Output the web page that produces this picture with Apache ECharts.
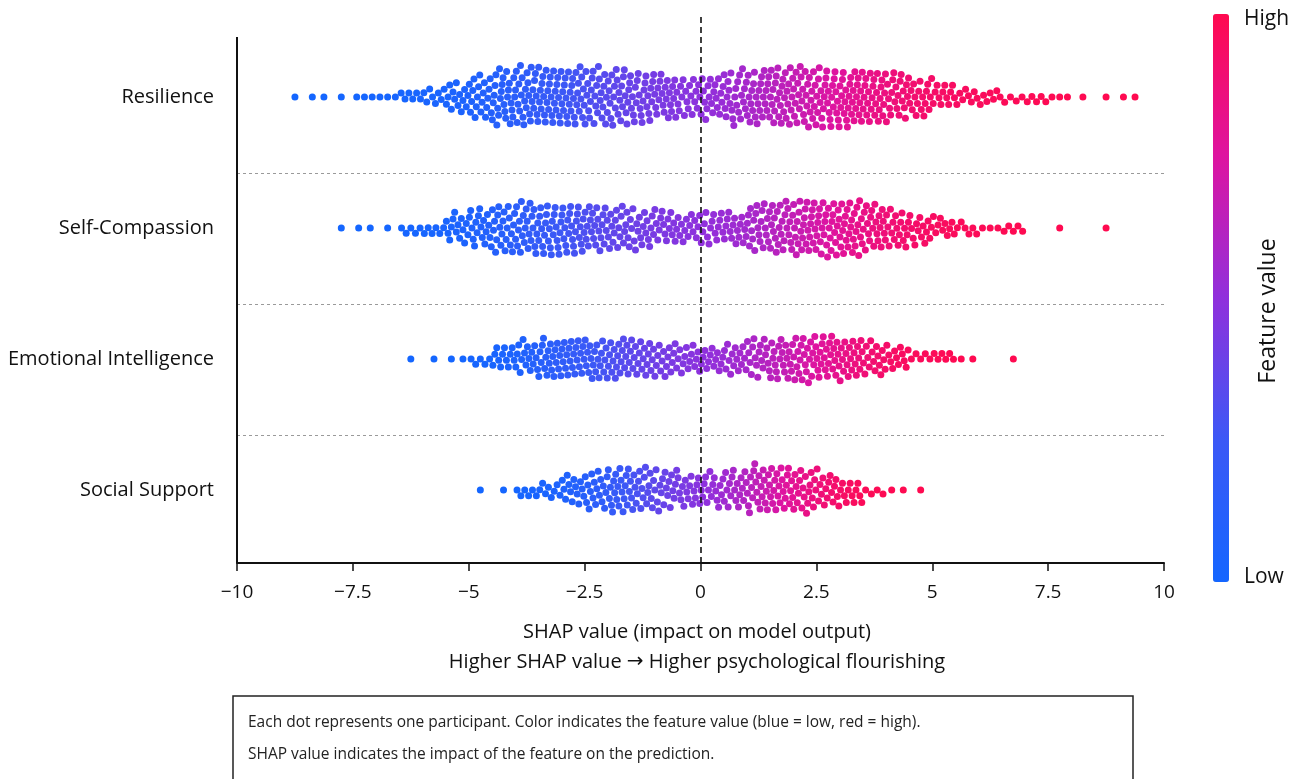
<!DOCTYPE html>
<html><head><meta charset="utf-8">
<script src="https://cdn.jsdelivr.net/npm/echarts@6/dist/echarts.min.js"></script>
<style>html,body{margin:0;padding:0;background:#fff}#c{width:1303px;height:779px}</style>
</head><body><div id="c"></div><script>
// ---- data ----
const features = ['Resilience', 'Self-Compassion', 'Emotional Intelligence', 'Social Support'];
const rowValues = [3, 2, 1, 0];
// dot counts per SHAP bin of width 0.5, bins from -10 to 10 (40 bins)
const binStart = -10;
const binWidth = 0.5;
const resilienceCounts = [0,0,1,2,1,3,3,6,8,14, 20,26,28,28,28,26,26,24,22,18, 20,24,26,28,28,28,28,26,22,18, 12,8,7,4,5,3,1,1,2,0];
const selfCompassionCounts = [0,0,0,0,1,2,1,5,6,14, 18,22,24,24,24,22,20,18,16,14, 15,16,22,24,26,26,26,22,18,14, 10,6,3,5,0,1,0,1,0,0];
const emotionalCounts = [0,0,0,0,0,0,0,1,1,2, 5,12,16,20,20,20,20,18,16,14, 13,15,18,20,22,22,20,16,12,5, 6,2,0,1,0,0,0,0,0,0];
const socialCounts = [0,0,0,0,0,0,0,0,0,0, 1,1,6,8,14,18,22,20,18,16, 16,18,22,22,20,16,12,4,2,1, 0,0,0,0,0,0,0,0,0,0];
const xTicks = [-10, -7.5, -5, -2.5, 0, 2.5, 5, 7.5, 10];
const separatorValues = [0.42, 1.42, 2.42];

// ---- layout ----
const W = 1303, H = 779;
const GRID = { left: 237, right: 139, top: 14, bottom: 216 };
const Y_MIN = -0.557, Y_MAX = 3.634, Y_AXIS_TOP = 3.458;
const FONT = '"Open Sans", "Noto Sans", sans-serif';
const pxPerX = (W - GRID.left - GRID.right) / 20;
const pxPerY = (H - GRID.top - GRID.bottom) / (Y_MAX - Y_MIN);

function swarm(counts, rowY) {
  const xs = [];
  counts.forEach((c, i) => {
    const lo = binStart + i * binWidth;
    for (let j = 0; j < c; j++) xs.push(lo + (j + 0.5) * binWidth / c);
  });
  xs.sort((a, b) => a - b);
  const N = xs.length, D = 7;
  const placed = [], pts = [];
  let flip = 1;
  xs.forEach((x, k) => {
    const px = x * pxPerX;
    const forb = [];
    for (let m = placed.length - 1; m >= 0; m--) {
      const q = placed[m];
      const dx = px - q.px;
      if (dx >= D) break;
      const h = Math.sqrt(D * D - dx * dx);
      forb.push([q.py - h, q.py + h]);
    }
    const cands = [0];
    forb.forEach(f => cands.push(f[0], f[1]));
    cands.sort((a, b) => (Math.abs(a) - Math.abs(b)) || flip * (b - a));
    let best = 0;
    for (const y of cands) {
      if (forb.every(f => y <= f[0] + 1e-6 || y >= f[1] - 1e-6)) { best = y; break; }
    }
    flip = -flip;
    placed.push({ px, py: best });
    pts.push([x, rowY + best / pxPerY, N > 1 ? k / (N - 1) : 0.5]);
  });
  return pts;
}

const allCounts = [resilienceCounts, selfCompassionCounts, emotionalCounts, socialCounts];
const colorStops = ['#1466ff', '#3c58f6', '#9030dc', '#de14a0', '#ff0a50'];

const series = allCounts.map((counts, i) => ({
  type: 'scatter',
  name: features[i],
  data: swarm(counts, rowValues[i]),
  symbolSize: 7,
  itemStyle: { opacity: 1 },
  silent: true,
  z: 2
}));

series[0].markLine = {
  silent: true,
  symbol: 'none',
  label: { show: false },
  z: 5,
  data: [
    ...separatorValues.map(v => ({ yAxis: v, lineStyle: { color: '#9a9a9a', type: [3, 3], width: 1 } })),
    { xAxis: 0, lineStyle: { color: '#111', type: [6, 4], width: 1.6 } },
    [{ coord: [-10, Y_AXIS_TOP], lineStyle: { color: '#111', type: 'solid', width: 2 } }, { coord: [-10, Y_MIN] }]
  ]
};

const chart = echarts.init(document.getElementById('c'), null, { renderer: 'canvas' });
chart.setOption({
  backgroundColor: '#fff',
  animation: false,
  grid: GRID,
  xAxis: {
    type: 'value', min: -10, max: 10, interval: 2.5,
    axisLine: { show: true, onZero: false, lineStyle: { color: '#111', width: 2 } },
    axisTick: { show: true, length: 8, lineStyle: { color: '#111', width: 1.5 } },
    splitLine: { show: false },
    axisLabel: {
      margin: 20, fontSize: 19, color: '#111', fontFamily: FONT,
      customValues: xTicks,
      formatter: v => (v < 0 ? '\u2212' : '') + Math.abs(v)
    }
  },
  yAxis: {
    type: 'value', min: Y_MIN, max: Y_MAX,
    axisLine: { show: false }, axisTick: { show: false }, splitLine: { show: false },
    axisLabel: {
      margin: 23, fontSize: 20, color: '#111', fontFamily: FONT,
      customValues: rowValues,
      formatter: v => {
        const i = rowValues.indexOf(Math.round(v * 1000) / 1000);
        return i >= 0 ? features[i] : '';
      }
    }
  },
  visualMap: {
    type: 'continuous', min: 0, max: 1, dimension: 2, seriesIndex: [0, 1, 2, 3],
    inRange: { color: colorStops },
    show: true, calculable: false, orient: 'vertical',
    left: 1213, top: 14, itemWidth: 16, itemHeight: 568,
    text: null, hoverLink: false, padding: 0
  },
  graphic: [
    { type: 'text', left: 1244, top: 9, style: { text: 'High', fontSize: 21, fill: '#111', fontFamily: FONT } },
    { type: 'text', left: 1244, top: 567, style: { text: 'Low', fontSize: 21, fill: '#111', fontFamily: FONT } },
    { type: 'text', x: 1268, y: 311, rotation: Math.PI / 2,
      style: { text: 'Feature value', fontSize: 23, fill: '#111', fontFamily: FONT, align: 'center', verticalAlign: 'middle' } },
    { type: 'text', x: 697, y: 632,
      style: { text: 'SHAP value (impact on model output)', fontSize: 20, fill: '#111', fontFamily: FONT, align: 'center', verticalAlign: 'middle' } },
    { type: 'text', x: 697, y: 662,
      style: { text: 'Higher SHAP value {arr|\u2192} Higher psychological flourishing', fontSize: 20, fill: '#111', fontFamily: FONT, align: 'center', verticalAlign: 'middle',
        rich: { arr: { fontFamily: '"DejaVu Sans", sans-serif', fontSize: 20, fill: '#111' } } } },
    { type: 'rect', shape: { x: 233, y: 696, width: 900, height: 100 },
      style: { fill: '#fff', stroke: '#222', lineWidth: 1.5 } },
    { type: 'text', x: 248, y: 723,
      style: { text: 'Each dot represents one participant. Color indicates the feature value (blue = low, red = high).', fontSize: 15.5, fill: '#222', fontFamily: FONT, verticalAlign: 'middle' } },
    { type: 'text', x: 248, y: 755,
      style: { text: 'SHAP value indicates the impact of the feature on the prediction.', fontSize: 15.5, fill: '#222', fontFamily: FONT, verticalAlign: 'middle' } }
  ],
  series
});
</script></body></html>
